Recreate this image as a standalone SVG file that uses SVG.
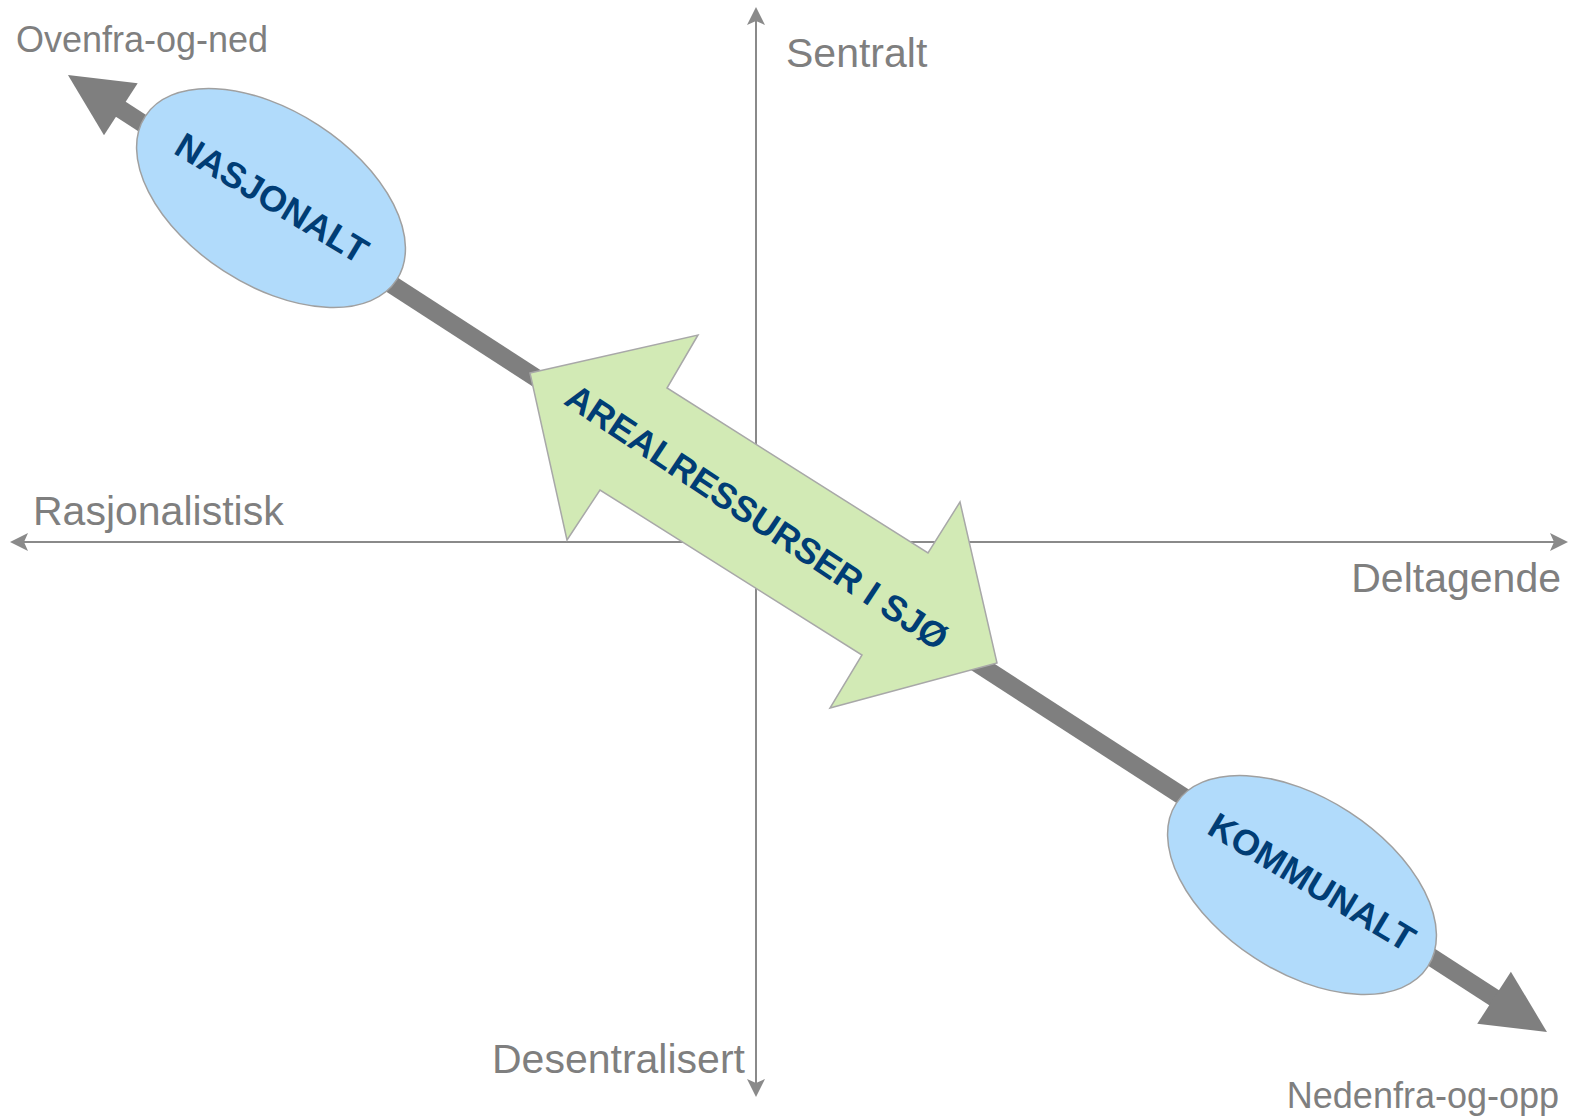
<svg xmlns="http://www.w3.org/2000/svg" width="1575" height="1119" viewBox="0 0 1575 1119">
<style>
.axis{stroke:#8a8a8a;stroke-width:2;fill:none}
.lbl{font-family:"Liberation Sans",Arial,sans-serif;fill:#7f7f7f}
.big{font-size:41px}
.small{font-size:36px}
.node{fill:#b1dbfb;stroke:#a0a0a0;stroke-width:1.5}
.ntxt{font-family:"Liberation Sans",Arial,sans-serif;font-weight:bold;font-size:36px;fill:#003d75;text-anchor:middle}
</style>
<defs>
<marker id="ax" markerUnits="userSpaceOnUse" markerWidth="40" markerHeight="40" orient="auto-start-reverse" overflow="visible" refX="0" refY="0">
<path d="M2,0 L-16,-9 L-12,0 L-16,9 Z" fill="#8a8a8a"/>
</marker>
<marker id="big" markerUnits="userSpaceOnUse" markerWidth="140" markerHeight="140" orient="auto-start-reverse" overflow="visible" refX="0" refY="0">
<path d="M-1,-31 L62,0 L-1,31 Z" fill="#7f7f7f"/>
</marker>
</defs>
<g id="connectors">
<line id="axis-h" class="axis" x1="1566" y1="542" x2="12" y2="542" marker-start="url(#ax)" marker-end="url(#ax)"/>
<line id="axis-v" class="axis" x1="756" y1="1095" x2="756" y2="9" marker-start="url(#ax)" marker-end="url(#ax)"/>
<line id="main-axis" x1="120" y1="108.7" x2="1494.9" y2="998.3" stroke="#7f7f7f" stroke-width="18" marker-start="url(#big)" marker-end="url(#big)"/>
</g>
<g id="labels">
<text class="lbl small" x="16" y="52">Ovenfra-og-ned</text>
<text class="lbl big" x="786" y="67">Sentralt</text>
<text class="lbl big" x="33" y="525">Rasjonalistisk</text>
<text class="lbl big" x="1561" y="592" text-anchor="end">Deltagende</text>
<text class="lbl big" x="492" y="1073">Desentralisert</text>
<text class="lbl small" x="1559" y="1108" text-anchor="end">Nedenfra-og-opp</text>
</g>
<g id="nasjonalt">
<ellipse class="node" cx="271" cy="198" rx="150" ry="87" transform="rotate(33 271 198)"/>
<text class="ntxt" x="272" y="198" dy="0.35em" transform="rotate(31 272 198)">NASJONALT</text>
</g>
<g id="kommunalt">
<ellipse class="node" cx="1302" cy="885" rx="150" ry="87" transform="rotate(33 1302 885)"/>
<text class="ntxt" x="1312" y="882" dy="0.35em" transform="rotate(31 1312 882)">KOMMUNALT</text>
</g>
<g id="arealressurser">
<polygon points="530,373 698,335 667,388 928,553 960,502 997,663 830,708 862,655 600,490 567,540" fill="#d2eab5" stroke="#a8a8a8" stroke-width="1.5"/>
<text class="ntxt" x="757" y="517" dy="0.35em" transform="rotate(33.5 757 517)">AREALRESSURSER I SJØ</text>
</g>
</svg>
